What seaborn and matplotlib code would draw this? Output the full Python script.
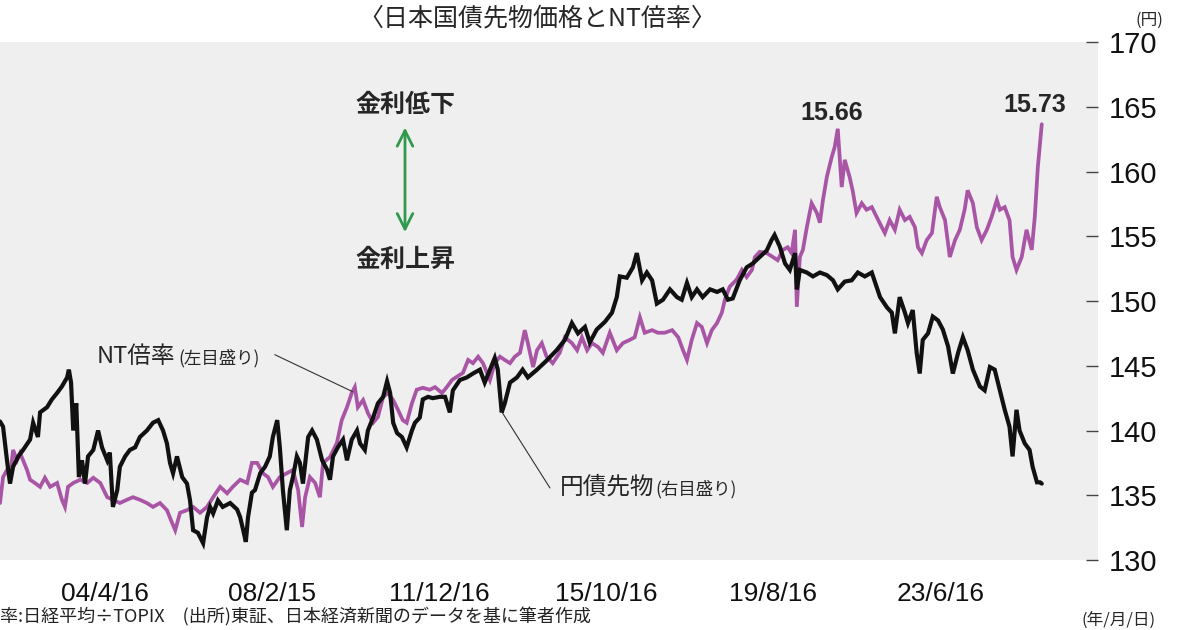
import pandas as pd
import matplotlib
matplotlib.use("Agg")
import matplotlib.pyplot as plt
import seaborn as sns

# 円債先物 (right axis, yen) -- decimal year / price
bond_year = [2001.88, 2001.95, 2002.04, 2002.11, 2002.18, 2002.30, 2002.41, 2002.57, 2002.64, 2002.75,
             2002.80, 2002.96, 2003.07, 2003.19, 2003.30, 2003.42, 2003.46, 2003.51, 2003.56, 2003.63,
             2003.69, 2003.76, 2003.83, 2003.90, 2004.02, 2004.13, 2004.22, 2004.34, 2004.40, 2004.47,
             2004.57, 2004.63, 2004.75, 2004.86, 2004.98, 2005.09, 2005.25, 2005.39, 2005.51, 2005.62,
             2005.71, 2005.78, 2005.85, 2005.94, 2006.06, 2006.17, 2006.24, 2006.31, 2006.42, 2006.54,
             2006.63, 2006.70, 2006.77, 2006.88, 2006.99, 2007.16, 2007.32, 2007.39, 2007.46, 2007.52,
             2007.57, 2007.66, 2007.73, 2007.85, 2007.96, 2008.07, 2008.14, 2008.24, 2008.30, 2008.37,
             2008.46, 2008.53, 2008.60, 2008.69, 2008.76, 2008.83, 2008.95, 2009.04, 2009.15, 2009.27,
             2009.38, 2009.45, 2009.52, 2009.63, 2009.75, 2009.84, 2009.95, 2010.07, 2010.14, 2010.25,
             2010.32, 2010.44, 2010.55, 2010.67, 2010.76, 2010.83, 2010.90, 2010.99, 2011.10, 2011.21,
             2011.33, 2011.40, 2011.51, 2011.58, 2011.70, 2011.81, 2011.97, 2012.09, 2012.20, 2012.27,
             2012.43, 2012.59, 2012.73, 2012.89, 2013.00, 2013.12, 2013.23, 2013.30, 2013.39, 2013.46,
             2013.58, 2013.74, 2013.87, 2013.99, 2014.20, 2014.42, 2014.65, 2014.84, 2015.00, 2015.14,
             2015.30, 2015.41, 2015.57, 2015.76, 2015.92, 2016.03, 2016.10, 2016.26, 2016.40, 2016.49,
             2016.61, 2016.72, 2016.84, 2016.95, 2017.09, 2017.25, 2017.41, 2017.52, 2017.64, 2017.75,
             2017.87, 2018.00, 2018.17, 2018.33, 2018.46, 2018.58, 2018.69, 2018.85, 2019.01, 2019.15,
             2019.31, 2019.47, 2019.58, 2019.65, 2019.77, 2019.89, 2020.00, 2020.12, 2020.16, 2020.23,
             2020.39, 2020.53, 2020.69, 2020.85, 2020.99, 2021.10, 2021.26, 2021.42, 2021.56, 2021.72,
             2021.88, 2021.99, 2022.07, 2022.23, 2022.34, 2022.41, 2022.52, 2022.64, 2022.71, 2022.82,
             2022.91, 2022.98, 2023.05, 2023.17, 2023.28, 2023.40, 2023.51, 2023.63, 2023.74, 2023.86,
             2023.97, 2024.08, 2024.20, 2024.36, 2024.47, 2024.59, 2024.70, 2024.82, 2024.93, 2025.04,
             2025.11, 2025.20, 2025.27, 2025.39, 2025.50, 2025.57, 2025.67, 2025.74, 2025.78]
bond_price = [140.7, 140.3, 137.7, 135.9, 137.2, 138.0, 138.5, 139.3, 140.6, 139.5,
              141.4, 141.8, 142.4, 142.9, 143.4, 144.1, 144.7, 143.7, 140.0, 142.1,
              136.4, 137.7, 135.9, 138.0, 138.5, 140.0, 138.7, 137.7, 138.3, 134.1,
              135.4, 137.2, 138.0, 138.5, 138.7, 139.5, 140.0, 140.6, 140.8, 140.0,
              139.0, 137.5, 136.7, 138.0, 136.4, 135.9, 134.6, 132.3, 132.1, 131.3,
              133.3, 134.1, 133.6, 134.6, 134.1, 134.4, 133.9, 133.3, 132.3, 131.4,
              133.3, 135.2, 135.4, 136.7, 137.2, 138.0, 139.5, 140.8, 138.7, 135.4,
              132.3, 135.4, 136.4, 138.0, 137.5, 135.9, 139.5, 140.0, 139.3, 137.7,
              137.0, 136.2, 138.0, 138.7, 139.3, 137.7, 139.3, 140.0, 139.0, 138.5,
              140.0, 141.0, 142.1, 142.6, 143.8, 142.9, 140.6, 139.8, 139.5, 138.7,
              140.0, 140.6, 141.0, 142.4, 142.6, 142.5, 142.6, 142.6, 141.4, 143.1,
              143.9, 144.1, 144.4, 144.7, 143.7, 144.7, 145.6, 144.7, 141.4, 142.1,
              143.7, 144.1, 144.7, 144.1, 144.7, 145.4, 146.2, 147.0, 148.3, 147.5,
              148.0, 146.8, 147.8, 148.4, 149.1, 150.3, 151.9, 151.8, 152.6, 153.7,
              151.6, 152.2, 151.6, 149.8, 150.1, 150.9, 150.3, 150.1, 151.4, 150.3,
              150.9, 150.3, 150.9, 150.7, 150.9, 150.1, 150.2, 151.6, 152.6, 152.9,
              153.4, 153.9, 154.7, 155.1, 154.2, 152.9, 152.4, 153.7, 150.9, 152.4,
              152.2, 151.9, 152.2, 152.0, 151.6, 150.9, 151.5, 151.6, 152.2, 151.9,
              152.2, 151.1, 150.3, 149.5, 149.1, 147.5, 150.3, 149.1, 148.3, 149.3,
              146.0, 144.4, 147.0, 147.5, 148.8, 148.5, 147.8, 146.5, 144.4, 146.0,
              147.2, 146.2, 144.7, 143.4, 143.1, 144.9, 144.7, 143.1, 141.6, 140.3,
              138.0, 141.6, 140.0, 139.0, 138.5, 137.2, 136.0, 136.0, 135.9]

# NT倍率 (left axis, hidden) -- decimal year / ratio
nt_year = [2001.88, 2001.95, 2002.04, 2002.11, 2002.18, 2002.27, 2002.34, 2002.41, 2002.50, 2002.57,
           2002.68, 2002.80, 2002.91, 2003.03, 2003.19, 2003.30, 2003.37, 2003.44, 2003.56, 2003.72,
           2003.88, 2004.02, 2004.18, 2004.34, 2004.47, 2004.63, 2004.79, 2004.93, 2005.09, 2005.25,
           2005.39, 2005.55, 2005.71, 2005.83, 2005.90, 2006.01, 2006.17, 2006.31, 2006.47, 2006.63,
           2006.77, 2006.93, 2007.09, 2007.22, 2007.39, 2007.55, 2007.66, 2007.78, 2007.91, 2008.03,
           2008.14, 2008.30, 2008.46, 2008.60, 2008.72, 2008.81, 2008.88, 2008.99, 2009.11, 2009.22,
           2009.29, 2009.45, 2009.61, 2009.72, 2009.84, 2009.95, 2010.02, 2010.09, 2010.21, 2010.32,
           2010.44, 2010.55, 2010.67, 2010.78, 2010.90, 2011.01, 2011.12, 2011.21, 2011.33, 2011.44,
           2011.58, 2011.74, 2011.86, 2012.02, 2012.13, 2012.25, 2012.36, 2012.50, 2012.62, 2012.73,
           2012.85, 2012.96, 2013.12, 2013.23, 2013.35, 2013.46, 2013.58, 2013.69, 2013.81, 2013.92,
           2013.99, 2014.11, 2014.20, 2014.31, 2014.42, 2014.56, 2014.72, 2014.84, 2015.00, 2015.12,
           2015.23, 2015.35, 2015.46, 2015.60, 2015.71, 2015.87, 2016.03, 2016.17, 2016.33, 2016.44,
           2016.56, 2016.67, 2016.84, 2016.97, 2017.13, 2017.30, 2017.44, 2017.55, 2017.64, 2017.75,
           2017.87, 2017.98, 2018.10, 2018.21, 2018.33, 2018.44, 2018.51, 2018.62, 2018.78, 2018.90,
           2019.01, 2019.13, 2019.20, 2019.31, 2019.47, 2019.61, 2019.72, 2019.84, 2019.95, 2020.04,
           2020.12, 2020.16, 2020.23, 2020.30, 2020.39, 2020.50, 2020.62, 2020.69, 2020.76, 2020.85,
           2020.96, 2021.03, 2021.10, 2021.19, 2021.26, 2021.37, 2021.44, 2021.53, 2021.65, 2021.76,
           2021.88, 2021.99, 2022.11, 2022.18, 2022.29, 2022.41, 2022.52, 2022.64, 2022.75, 2022.87,
           2022.94, 2023.03, 2023.14, 2023.26, 2023.37, 2023.44, 2023.56, 2023.67, 2023.79, 2023.90,
           2024.01, 2024.08, 2024.20, 2024.29, 2024.40, 2024.52, 2024.63, 2024.75, 2024.82, 2024.93,
           2025.04, 2025.11, 2025.20, 2025.32, 2025.43, 2025.55, 2025.62, 2025.69, 2025.78]
nt_ratio = [9.88, 10.28, 10.39, 10.28, 10.70, 10.54, 10.65, 10.54, 10.39, 10.24,
            10.19, 10.13, 10.27, 10.13, 10.19, 9.93, 9.82, 10.13, 10.19, 10.24,
            10.19, 10.27, 10.19, 9.97, 9.93, 9.88, 9.93, 9.97, 9.93, 9.88,
            9.82, 9.88, 9.77, 9.57, 9.46, 9.73, 9.77, 9.82, 9.73, 9.82,
            9.97, 10.13, 10.03, 10.13, 10.24, 10.19, 10.50, 10.50, 10.34, 10.28,
            10.13, 10.28, 10.34, 10.39, 10.08, 9.51, 9.97, 10.28, 10.19, 9.97,
            10.50, 10.59, 10.81, 11.16, 11.36, 11.58, 11.67, 11.36, 11.47, 11.27,
            11.12, 11.21, 11.52, 11.58, 11.47, 11.32, 11.16, 11.12, 11.42, 11.63,
            11.66, 11.63, 11.67, 11.58, 11.67, 11.78, 11.83, 11.89, 12.09, 12.04,
            12.14, 12.04, 11.78, 12.04, 12.14, 12.09, 12.04, 12.14, 12.20, 12.55,
            12.35, 11.98, 12.24, 12.35, 12.14, 12.04, 12.20, 12.44, 12.35, 12.24,
            12.44, 12.24, 12.35, 12.29, 12.20, 12.51, 12.24, 12.35, 12.40, 12.44,
            12.75, 12.51, 12.55, 12.51, 12.51, 12.55, 12.44, 12.24, 12.09, 12.40,
            12.66, 12.60, 12.35, 12.55, 12.66, 12.82, 13.02, 13.22, 13.33, 13.48,
            13.37, 13.48, 13.68, 13.76, 13.74, 13.68, 13.63, 13.79, 13.83, 13.74,
            14.10, 12.91, 13.68, 13.79, 14.14, 14.51, 14.36, 14.21, 14.56, 14.92,
            15.22, 15.38, 15.66, 14.76, 15.18, 14.92, 14.71, 14.36, 14.51, 14.41,
            14.45, 14.30, 14.14, 14.05, 14.25, 14.10, 14.41, 14.25, 14.30, 14.14,
            13.83, 13.74, 13.94, 14.05, 14.61, 14.45, 14.25, 13.68, 13.94, 14.10,
            14.41, 14.71, 14.51, 14.14, 13.94, 14.10, 14.30, 14.56, 14.41, 14.45,
            14.25, 13.68, 13.48, 13.68, 14.10, 13.79, 14.30, 15.07, 15.73]

tick_dates = ["2004-04-16", "2008-02-15", "2011-12-16", "2015-10-16", "2019-08-16", "2023-06-16"]
tick_labels = ["04/4/16", "08/2/15", "11/12/16", "15/10/16", "19/8/16", "23/6/16"]
price_ticks = [130, 135, 140, 145, 150, 155, 160, 165, 170]

sns.set_theme(style="white")
plt.rcParams["font.family"] = ["Liberation Sans", "Noto Sans CJK JP", "DejaVu Sans"]
JP = ["Noto Sans CJK JP", "DejaVu Sans"]

purple = "#a955a6"
green = "#2f9a4c"

bond = pd.DataFrame({"year": bond_year, "price": bond_price})
nt = pd.DataFrame({"year": nt_year, "ratio": nt_ratio})
td = pd.to_datetime(pd.Series(tick_dates))
tick_pos = td.dt.year + (td.dt.dayofyear - 1) / (365 + td.dt.is_leap_year.astype(int))

fig = plt.figure(figsize=(12, 6.3), dpi=100)
ax = fig.add_axes([0, 0.1111, 0.915, 0.8222])
ax.set_facecolor("#efefef")
ax2 = ax.twinx()

sns.lineplot(data=nt, x="year", y="ratio", ax=ax, color=purple, linewidth=2.7, estimator=None)
sns.lineplot(data=bond, x="year", y="price", ax=ax2, color="#111111", linewidth=3.0, estimator=None)
for line in ax.lines + ax2.lines:
    line.set_solid_joinstyle("miter")

ax.set_xlim(2001.88, 2027.07)
ax.set_ylim(9, 17)
ax2.set_ylim(130, 170)
ax.set_yticks([])
ax.set_xlabel("")
ax.set_ylabel("")
ax2.set_ylabel("")
ax.set_xticks(tick_pos)
ax.set_xticklabels(tick_labels)
ax.tick_params(axis="x", direction="in", length=8, width=1, color="#444444",
               pad=16, labelsize=19, labelcolor="#111111")
ax2.set_yticks(price_ticks)
ax2.tick_params(axis="y", direction="in", length=9, width=1, color="#444444",
                pad=8, labelsize=21, labelcolor="#111111")
for a in (ax, ax2):
    for s in a.spines.values():
        s.set_visible(False)

fig.text(0.4475, 0.971, "〈日本国債先物価格とNT倍率〉", ha="center", va="center",
         fontsize=18, family=JP)
fig.text(0.958, 0.968, "(円)", ha="center", va="center", fontsize=12, family=JP)
fig.text(0.9325, 0.016, "(年/月/日)", ha="center", va="center", fontsize=12, family=JP)
fig.text(0.0, 0.021, "率:日経平均÷TOPIX　(出所)東証、日本経済新聞のデータを基に筆者作成",
         ha="left", va="center", fontsize=13, family=JP, color="#222222")

# rate direction arrow
fig.text(0.3375, 0.8333, "金利低下", ha="center", va="center", fontsize=18,
         fontweight="bold", family=JP)
fig.text(0.3375, 0.5873, "金利上昇", ha="center", va="center", fontsize=18,
         fontweight="bold", family=JP)
ax.annotate("", xy=(0.3375, 0.802), xytext=(0.3375, 0.627), xycoords="figure fraction",
            textcoords="figure fraction",
            arrowprops=dict(arrowstyle="<->", color=green, lw=2, mutation_scale=28))

# peak labels
fig.text(0.6933, 0.8206, "15.66", ha="center", va="center", fontsize=18, fontweight="bold")
fig.text(0.8625, 0.8333, "15.73", ha="center", va="center", fontsize=18, fontweight="bold")

# series labels with leader lines
fig.text(0.0808, 0.4349, "NT倍率", ha="left", va="center", fontsize=17, family=JP)
fig.text(0.149, 0.4317, "(左目盛り)", ha="left", va="center", fontsize=12.5, family=JP)
ax.annotate("", xy=(2009.97, 11.6), xytext=(0.229, 0.437), textcoords="figure fraction",
            arrowprops=dict(arrowstyle="-", color="#333333", lw=0.8, shrinkA=0, shrinkB=0))
fig.text(0.4667, 0.2270, "円債先物", ha="left", va="center", fontsize=17, family=JP)
fig.text(0.5458, 0.2238, "(右目盛り)", ha="left", va="center", fontsize=12.5, family=JP)
ax2.annotate("", xy=(2013.40, 141.4), xytext=(0.4583, 0.2254), textcoords="figure fraction",
             arrowprops=dict(arrowstyle="-", color="#333333", lw=0.8, shrinkA=0, shrinkB=0))

fig.savefig("out.png", dpi=100, facecolor="white")
